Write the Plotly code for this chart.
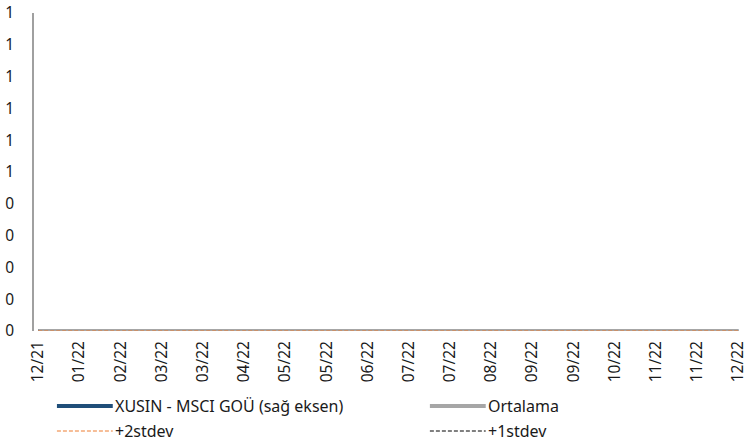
import plotly.graph_objects as go

# ---- data ----
x_tick_labels = ["12/21", "01/22", "02/22", "03/22", "03/22", "04/22", "05/22", "05/22", "06/22",
                 "07/22", "07/22", "08/22", "09/22", "09/22", "10/22", "11/22", "11/22", "12/22"]
x_positions = list(range(len(x_tick_labels)))

xusin_msci = [0, 0, 0, 0, 0, 0, 0, 0, 0, 0, 0, 0, 0, 0, 0, 0, 0, 0]
ortalama   = [0, 0, 0, 0, 0, 0, 0, 0, 0, 0, 0, 0, 0, 0, 0, 0, 0, 0]
plus2std   = [0, 0, 0, 0, 0, 0, 0, 0, 0, 0, 0, 0, 0, 0, 0, 0, 0, 0]
plus1std   = [0, 0, 0, 0, 0, 0, 0, 0, 0, 0, 0, 0, 0, 0, 0, 0, 0, 0]

y_tick_values = [0, 0.1, 0.2, 0.3, 0.4, 0.5, 0.6, 0.7, 0.8, 0.9, 1.0]
y_tick_labels = ["0", "0", "0", "0", "0", "1", "1", "1", "1", "1", "1"]

series_names = ["XUSIN - MSCI GOÜ (sağ eksen)", "Ortalama", "+2stdev", "+1stdev"]

FONT = "Noto Sans"
TXT = "#1a1a1a"
BLUE = "#1F4E79"
GRAY = "#A6A6A6"
ORANGE = "#ED7D31"
BLACK = "#000000"
DASH = "4px,2px"

fig = go.Figure()
fig.add_trace(go.Scatter(x=x_positions, y=xusin_msci, mode="lines", name=series_names[0],
                         line=dict(color=BLUE, width=4), showlegend=False))
fig.add_trace(go.Scatter(x=x_positions, y=plus1std, mode="lines", name=series_names[3],
                         line=dict(color=BLACK, width=1, dash=DASH), showlegend=False))
fig.add_trace(go.Scatter(x=x_positions, y=ortalama, mode="lines", name=series_names[1],
                         line=dict(color=GRAY, width=4), showlegend=False))
fig.add_trace(go.Scatter(x=x_positions, y=plus2std, mode="lines", name=series_names[2],
                         line=dict(color=ORANGE, width=1, dash=DASH), showlegend=False))

# plot area geometry (pixels) for manual legend placement
W, H = 748, 442
L, R, T, B = 34, 0, 13, 111
pw, ph = W - L - R, H - T - B

def px(xpix):
    return (xpix - L) / pw

def py(ypix):
    return (H - B - ypix) / ph

legend_items = [
    (series_names[0], dict(color=BLUE, width=4), False, 57, 113, 406),
    (series_names[1], dict(color=GRAY, width=4), False, 431, 487, 406),
    (series_names[2], dict(color=ORANGE, width=1), True, 57, 113, 431),
    (series_names[3], dict(color=BLACK, width=1), True, 431, 487, 431),
]
shapes = []
annotations = []
for name, ln, dashed, x0, x1, yc in legend_items:
    line = dict(ln)
    if dashed:
        line["dash"] = DASH
    shapes.append(dict(type="line", xref="paper", yref="paper",
                       x0=px(x0), x1=px(x1), y0=py(yc), y1=py(yc), line=line))
    annotations.append(dict(xref="paper", yref="paper", x=px(x1 + 1), y=py(yc),
                            text=name, showarrow=False, xanchor="left", yanchor="middle",
                            borderpad=0,
                            font=dict(family=FONT, size=16, color=TXT)))

fig.update_layout(
    width=W, height=H,
    margin=dict(l=L, r=R, t=T, b=B, pad=0),
    paper_bgcolor="white", plot_bgcolor="white",
    showlegend=False,
    shapes=shapes, annotations=annotations,
    font=dict(family=FONT, size=15.5, color=TXT),
)
x_first, x_last = x_positions[0], x_positions[-1]
span = x_last - x_first
fig.update_xaxes(
    range=[x_first - 0.006 * span, x_last + 0.011 * span],
    tickmode="array", tickvals=x_positions, ticktext=x_tick_labels,
    tickangle=-90, showgrid=False, zeroline=False, showline=False,
    ticks="", ticklabelstandoff=6, ticklabeloverflow="allow",
    tickfont=dict(family=FONT, size=15.5, color=TXT),
)
fig.update_yaxes(
    range=[0, 1],
    tickmode="array", tickvals=y_tick_values, ticktext=y_tick_labels,
    showgrid=False, zeroline=False, showline=True, linecolor="#A0A0A0", linewidth=1.5,
    ticks="", ticklabelstandoff=15, ticklabeloverflow="allow",
    tickfont=dict(family=FONT, size=15.5, color=TXT),
)

fig.write_html("out.html",
               config={"displayModeBar": False},
               post_script="document.body.style.margin='0';document.body.style.overflow='hidden';")
